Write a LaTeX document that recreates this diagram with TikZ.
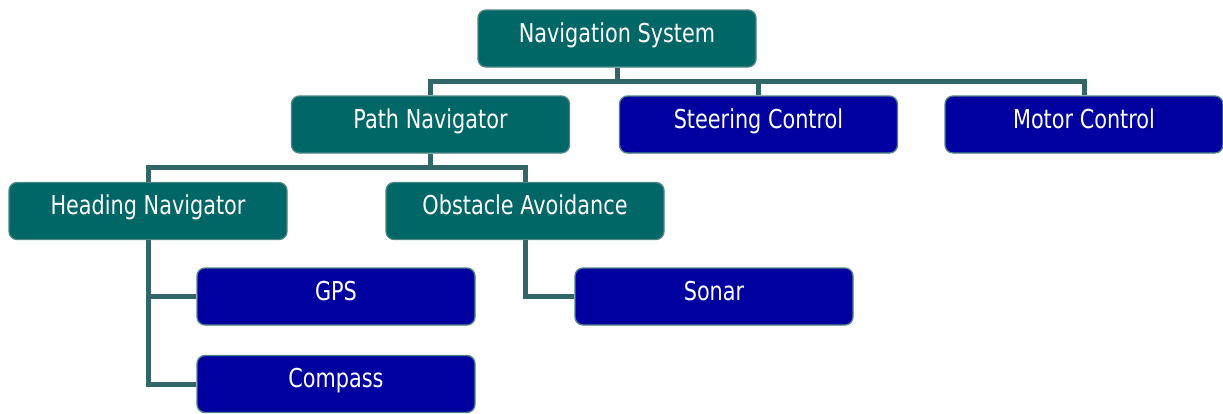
\documentclass[tikz,border=0pt]{standalone}
\usepackage{fontspec}
\setmainfont[FakeStretch=0.8]{DejaVu Sans}
\usepackage{tikz}
\usepackage{xcolor}
\usetikzlibrary{calc,positioning}
\definecolor{tealbox}{HTML}{006666}
\definecolor{bluebox}{HTML}{0000A0}
\definecolor{linkcol}{HTML}{336666}
\definecolor{edgecol}{HTML}{4F8585}

\tikzset{
    unit/.style={draw=edgecol, line width=1.3pt, rounded corners=8pt, text=white,
        minimum width=278pt, minimum height=57pt, inner sep=0pt,
        text height=19pt, text depth=12pt,
        font=\fontsize{26}{30}\selectfont},
    group/.style={unit, fill=tealbox},
    device/.style={unit, fill=bluebox},
    link/.style={draw=linkcol, line width=5pt}
}

\begin{document}
\begin{tikzpicture}[x=1pt, y=-1pt]
    \useasboundingbox (0, 0) rectangle (1223, 413);
    % top level
    \node[group] (navsys) at (617, 38.5) {Navigation System};
    \node[group] (pathnav) at (430.5, 124.5) {Path Navigator};
    \node[device] (steer) at (758.5, 124.5) {Steering Control};
    \node[device] (motor) at (1084, 124.5) {Motor Control};
    % second level
    \node[group] (heading) at (148, 211) {Heading Navigator};
    \node[group] (obstacle) at (525, 211) {Obstacle Avoidance};
    % sensors
    \node[device] (gps) at (336, 296.5) {GPS};
    \node[device] (sonar) at (714, 296.5) {Sonar};
    \node[device] (compass) at (336, 384) {Compass};
    % connectors
    \coordinate (bus1) at ($(navsys.south) + (0, 14)$);
    \coordinate (bus2) at ($(pathnav.south) + (0, 14)$);
    \draw[link] (navsys.south) -- (bus1);
    \draw[link] (pathnav.north) |- (bus1) -| (motor.north);
    \draw[link] (steer.north) -- (steer.north |- bus1);
    \draw[link] (pathnav.south) -- (bus2);
    \draw[link] (heading.north) |- (bus2) -| (obstacle.north);
    \draw[link] (heading.south) |- (compass.west);
    \draw[link] (heading.south |- gps.west) -- (gps.west);
    \draw[link] (obstacle.south) |- (sonar.west);
\end{tikzpicture}
\end{document}
